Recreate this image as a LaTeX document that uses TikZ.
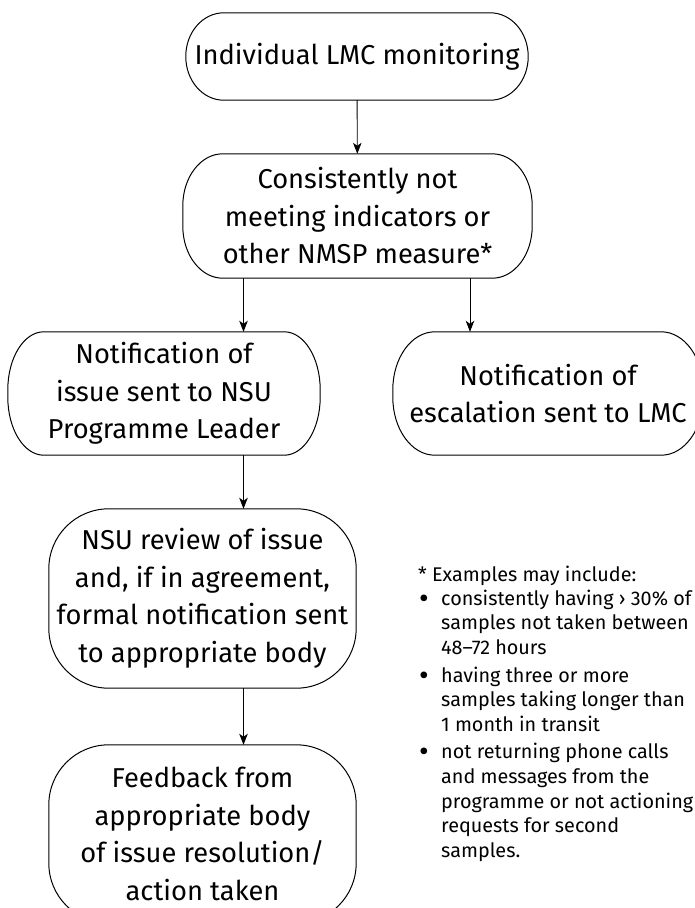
\documentclass[tikz,border=0pt]{standalone}
\usepackage{fontspec}
\setmainfont{Fira Sans}
\usetikzlibrary{arrows.meta}

% Pill outline drawn around a node: #1 node, #2 horizontal corner radius, #3 vertical corner radius
\newcommand\drawpill[3]{%
  \draw[outline] ([xshift=#2]#1.north west) -- ([xshift=-#2]#1.north east)
    arc[start angle=90,end angle=0,x radius=#2,y radius=#3]
    -- ([yshift=#3]#1.south east)
    arc[start angle=0,end angle=-90,x radius=#2,y radius=#3]
    -- ([xshift=#2]#1.south west)
    arc[start angle=270,end angle=180,x radius=#2,y radius=#3]
    -- ([yshift=-#3]#1.north west)
    arc[start angle=180,end angle=90,x radius=#2,y radius=#3] -- cycle;}
% list bullet and hanging indent for the footnote
\newcommand\notebullet{\makebox[23pt][l]{\hspace{1pt}\raisebox{-3pt}{\scalebox{1.5}{•}}}}
\newcommand\noteindent{\hspace*{23pt}}

\begin{document}
\begin{tikzpicture}[x=1pt,y=1pt,
  boxtext/.style={inner sep=0pt, align=center, font=\fontsize{27.3}{37.5}\selectfont},
  notetext/.style={inner sep=0pt, align=left, font=\fontsize{19.8}{24.6}\selectfont},
  outline/.style={line width=1pt, line join=round},
  flow/.style={line width=0.9pt, -{Stealth[length=11pt,width=8.5pt,inset=3pt]}}]
\useasboundingbox (0,0) rectangle (695,-908);
\clip (0,0) rectangle (695,-908);

% process boxes
\node[boxtext, minimum width=342pt, minimum height=87pt] (b1) at (357,-56.5)
  {Individual LMC monitoring};
\node[boxtext, minimum width=349pt, minimum height=124pt] (b2) at (357.5,-216)
  {Consistently not\\meeting indicators or\\other NMSP measure*};
\node[boxtext, minimum width=312pt, minimum height=123pt] (b3) at (164,-393.5)
  {Notification of\\issue sent to NSU\\Programme Leader};
\node[boxtext, minimum width=310pt, minimum height=123pt] (b6) at (548,-393.5)
  {Notification of\\escalation sent to LMC};
\node[boxtext, minimum width=307pt, minimum height=179pt] (b4) at (202.5,-598.5)
  {NSU review of issue\\and, if in agreement,\\formal notification sent\\to appropriate body};
\node[boxtext, minimum width=307pt, minimum height=178pt] (b5) at (202.5,-834)
  {Feedback from\\appropriate body\\of issue resolution/\\action taken};

\drawpill{b1}{38pt}{43.5pt}
\drawpill{b2}{40pt}{52pt}
\drawpill{b3}{36pt}{58pt}
\drawpill{b6}{42pt}{58pt}
\drawpill{b4}{60pt}{60pt}
\drawpill{b5}{60pt}{60pt}

% connector columns
\coordinate (xl) at (243.5,0);
\coordinate (xr) at (470,0);

\draw[flow] (b1) -- (b2);
\draw[flow] (b2.south -| xl) -- (b3.north -| xl);
\draw[flow] (b2.south -| xr) -- (b6.north -| xr);
\draw[flow] (b3.south -| xl) -- (b4.north -| xl);
\draw[flow] (b4.south -| xl) -- (b5.north -| xl);

% footnote
\node[notetext, anchor=north west] (note) at (418,-566)
  {* Examples may include:\\[-1pt]
   \notebullet consistently having › 30\% of\\
   \noteindent samples not taken between\\
   \noteindent 48–72 hours\\[3pt]
   \notebullet having three or more\\
   \noteindent samples taking longer than\\
   \noteindent 1 month in transit\\[3pt]
   \notebullet not returning phone calls\\
   \noteindent and messages from the\\
   \noteindent programme or not actioning\\
   \noteindent requests for second\\
   \noteindent samples.};
\end{tikzpicture}
\end{document}
